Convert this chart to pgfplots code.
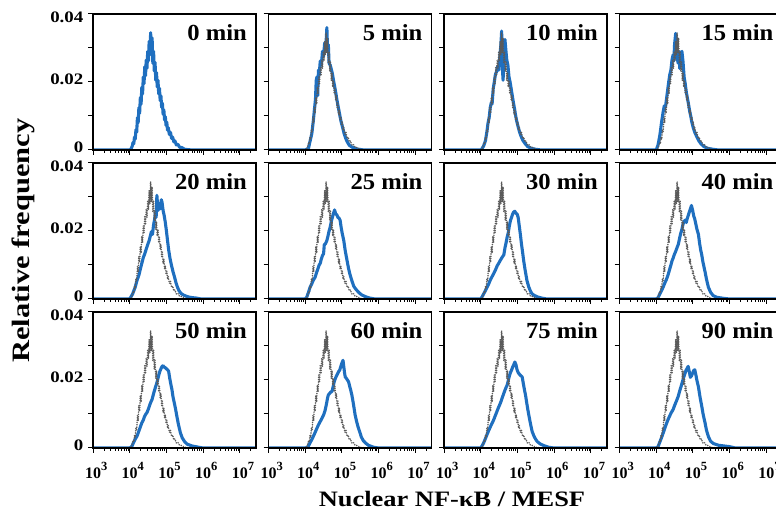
\documentclass[border=0pt]{standalone}
\usepackage{pgfplots}
\pgfplotsset{compat=1.18}
\usepackage{pgfplotstable}
\usepackage{graphicx}
\usepackage{fontspec}
\setmainfont{Liberation Serif}

\definecolor{nfblue}{RGB}{31,111,191}
\definecolor{refgray}{RGB}{90,90,90}

\newcommand{\sx}[2][1.15]{\scalebox{#1}[1]{#2}}
\newcommand{\dec}[1]{\textbf{10}\rlap{\raisebox{7.5pt}{\fontsize{12.5}{12.5}\selectfont\textbf{#1}}}}
\newcommand{\ylab}[2]{\smash{\raisebox{#2}{\sx[1.18]{\textbf{#1}}}}}

% reference distribution (0 min), log10 of intensity vs relative frequency
\pgfplotstableread{
x y
3.00 0
4.00 0
4.04 0.0004
4.07 0.0012
4.09 0.0022
4.11 0.0018
4.13 0.0038
4.15 0.0032
4.17 0.0060
4.19 0.0052
4.21 0.0095
4.23 0.0080
4.25 0.0125
4.27 0.0108
4.29 0.0155
4.31 0.0135
4.33 0.0185
4.35 0.0165
4.37 0.0215
4.39 0.0195
4.41 0.0245
4.43 0.0218
4.45 0.0265
4.47 0.0240
4.49 0.0290
4.51 0.0262
4.53 0.0320
4.55 0.0280
4.57 0.0345
4.59 0.0285
4.61 0.0330
4.63 0.0255
4.65 0.0290
4.67 0.0232
4.69 0.0258
4.71 0.0205
4.73 0.0228
4.75 0.0185
4.77 0.0205
4.79 0.0165
4.81 0.0182
4.83 0.0145
4.85 0.0160
4.87 0.0125
4.89 0.0138
4.91 0.0105
4.93 0.0118
4.95 0.0088
4.97 0.0098
4.99 0.0072
5.01 0.0082
5.03 0.0058
5.05 0.0066
5.08 0.0046
5.11 0.0052
5.14 0.0034
5.17 0.0038
5.20 0.0024
5.23 0.0027
5.27 0.0015
5.31 0.0017
5.36 0.0008
5.42 0.0007
5.50 0.0002
5.60 0.0001
5.70 0
7.50 0
}\tRef

\pgfplotstableread{
x y
3.00 0
4.00 0
4.09 0.0005
4.13 0.0025
4.18 0.0048
4.22 0.0085
4.25 0.0118
4.28 0.0150
4.30 0.0205
4.32 0.0215
4.34 0.0160
4.36 0.0235
4.38 0.0220
4.41 0.0262
4.44 0.0250
4.47 0.0290
4.50 0.0275
4.53 0.0315
4.56 0.0300
4.59 0.0360
4.61 0.0290
4.63 0.0310
4.65 0.0255
4.68 0.0250
4.71 0.0238
4.74 0.0225
4.77 0.0205
4.80 0.0188
4.83 0.0170
4.86 0.0150
4.89 0.0132
4.92 0.0115
4.95 0.0098
4.98 0.0082
5.02 0.0066
5.06 0.0048
5.10 0.0035
5.14 0.0025
5.20 0.0014
5.28 0.0008
5.40 0.0003
5.60 0
7.50 0
}\tBfive

\pgfplotstableread{
x y
3.00 0
4.00 0
4.03 0.0003
4.08 0.0012
4.13 0.0028
4.17 0.0055
4.20 0.0080
4.23 0.0095
4.26 0.0125
4.29 0.0140
4.31 0.0135
4.34 0.0180
4.37 0.0200
4.40 0.0222
4.43 0.0230
4.46 0.0245
4.49 0.0235
4.52 0.0275
4.55 0.0310
4.57 0.0350
4.59 0.0240
4.61 0.0205
4.63 0.0280
4.66 0.0325
4.68 0.0300
4.71 0.0265
4.74 0.0250
4.77 0.0215
4.80 0.0200
4.83 0.0180
4.86 0.0160
4.89 0.0140
4.92 0.0122
4.95 0.0102
4.98 0.0085
5.02 0.0068
5.06 0.0052
5.10 0.0040
5.15 0.0028
5.20 0.0020
5.28 0.0010
5.38 0.0005
5.50 0.0002
5.65 0
7.50 0
}\tBten

\pgfplotstableread{
x y
3.00 0
4.00 0
4.05 0.0015
4.10 0.0044
4.15 0.0085
4.19 0.0113
4.22 0.0130
4.25 0.0125
4.28 0.0150
4.31 0.0175
4.34 0.0200
4.37 0.0222
4.40 0.0235
4.43 0.0265
4.46 0.0280
4.48 0.0262
4.50 0.0310
4.53 0.0343
4.55 0.0300
4.57 0.0270
4.60 0.0255
4.62 0.0290
4.64 0.0240
4.67 0.0285
4.70 0.0290
4.73 0.0260
4.76 0.0215
4.79 0.0195
4.82 0.0170
4.85 0.0152
4.88 0.0135
4.91 0.0115
4.94 0.0100
4.97 0.0082
5.01 0.0065
5.05 0.0052
5.10 0.0040
5.16 0.0027
5.22 0.0018
5.30 0.0010
5.40 0.0005
5.55 0.0002
5.70 0
7.50 0
}\tBfifteen

\pgfplotstableread{
x y
3.00 0
4.00 0
4.08 0.0015
4.15 0.0035
4.20 0.0055
4.25 0.0070
4.29 0.0088
4.33 0.0105
4.37 0.0122
4.40 0.0130
4.43 0.0140
4.46 0.0150
4.49 0.0160
4.53 0.0172
4.56 0.0185
4.59 0.0198
4.62 0.0190
4.65 0.0218
4.68 0.0235
4.70 0.0255
4.72 0.0240
4.74 0.0305
4.77 0.0260
4.80 0.0280
4.83 0.0265
4.86 0.0292
4.88 0.0285
4.91 0.0260
4.94 0.0245
4.97 0.0225
5.00 0.0200
5.03 0.0172
5.06 0.0145
5.10 0.0118
5.14 0.0098
5.18 0.0080
5.22 0.0065
5.26 0.0048
5.30 0.0035
5.34 0.0025
5.40 0.0016
5.46 0.0012
5.52 0.0009
5.60 0.0006
5.70 0.0004
5.80 0.0003
5.95 0
7.50 0
}\tBtwenty

\pgfplotstableread{
x y
3.00 0
4.00 0
4.04 0.0005
4.09 0.0020
4.13 0.0034
4.18 0.0045
4.22 0.0055
4.27 0.0064
4.31 0.0078
4.35 0.0090
4.38 0.0100
4.41 0.0105
4.44 0.0118
4.47 0.0128
4.50 0.0133
4.52 0.0160
4.55 0.0162
4.59 0.0172
4.62 0.0185
4.65 0.0200
4.68 0.0211
4.71 0.0228
4.74 0.0240
4.77 0.0252
4.80 0.0262
4.83 0.0250
4.86 0.0248
4.89 0.0240
4.92 0.0238
4.95 0.0232
4.98 0.0210
5.01 0.0192
5.05 0.0172
5.09 0.0142
5.14 0.0113
5.18 0.0090
5.22 0.0072
5.27 0.0054
5.32 0.0038
5.37 0.0030
5.41 0.0025
5.47 0.0018
5.54 0.0012
5.64 0.0007
5.75 0.0003
5.90 0
7.50 0
}\tBtwentyfive

\pgfplotstableread{
x y
3.00 0
4.00 0
4.03 0.0005
4.08 0.0015
4.13 0.0025
4.17 0.0034
4.22 0.0045
4.27 0.0058
4.31 0.0066
4.35 0.0074
4.40 0.0085
4.45 0.0098
4.49 0.0105
4.53 0.0113
4.58 0.0122
4.63 0.0130
4.66 0.0150
4.69 0.0165
4.72 0.0182
4.75 0.0195
4.78 0.0215
4.81 0.0231
4.84 0.0240
4.87 0.0250
4.90 0.0256
4.93 0.0258
4.96 0.0252
4.99 0.0250
5.02 0.0240
5.05 0.0215
5.08 0.0190
5.11 0.0162
5.14 0.0138
5.17 0.0113
5.21 0.0085
5.26 0.0054
5.31 0.0035
5.36 0.0022
5.40 0.0015
5.47 0.0010
5.55 0.0006
5.65 0.0003
5.80 0
7.50 0
}\tBthirty

\pgfplotstableread{
x y
3.00 0
4.00 0
4.05 0.0004
4.10 0.0015
4.15 0.0026
4.19 0.0035
4.23 0.0046
4.28 0.0058
4.32 0.0070
4.36 0.0085
4.40 0.0100
4.43 0.0112
4.46 0.0120
4.49 0.0130
4.53 0.0140
4.57 0.0152
4.60 0.0160
4.63 0.0175
4.66 0.0190
4.70 0.0205
4.73 0.0220
4.76 0.0228
4.79 0.0232
4.82 0.0225
4.84 0.0235
4.87 0.0245
4.90 0.0255
4.93 0.0265
4.96 0.0275
4.99 0.0262
5.02 0.0245
5.05 0.0235
5.08 0.0220
5.11 0.0205
5.15 0.0190
5.18 0.0165
5.21 0.0145
5.24 0.0130
5.27 0.0110
5.30 0.0095
5.33 0.0080
5.37 0.0058
5.42 0.0035
5.48 0.0020
5.55 0.0010
5.65 0.0005
5.83 0.0002
6.00 0
7.50 0
}\tBforty

\pgfplotstableread{
x y
3.00 0
4.00 0
4.06 0.0005
4.10 0.0015
4.15 0.0026
4.20 0.0035
4.25 0.0050
4.29 0.0062
4.33 0.0074
4.37 0.0082
4.40 0.0092
4.44 0.0100
4.47 0.0104
4.51 0.0115
4.55 0.0128
4.58 0.0136
4.61 0.0143
4.65 0.0160
4.69 0.0175
4.72 0.0185
4.74 0.0192
4.77 0.0205
4.80 0.0218
4.83 0.0228
4.86 0.0235
4.88 0.0240
4.91 0.0242
4.94 0.0238
4.97 0.0236
5.00 0.0233
5.03 0.0230
5.06 0.0226
5.09 0.0205
5.12 0.0188
5.15 0.0172
5.18 0.0150
5.21 0.0135
5.25 0.0114
5.29 0.0090
5.33 0.0068
5.38 0.0045
5.43 0.0030
5.50 0.0018
5.57 0.0011
5.70 0.0006
5.84 0.0003
6.00 0
7.50 0
}\tBfifty

\pgfplotstableread{
x y
3.00 0
4.00 0
4.08 0.0004
4.13 0.0015
4.18 0.0025
4.22 0.0034
4.27 0.0046
4.31 0.0056
4.36 0.0068
4.40 0.0076
4.45 0.0086
4.50 0.0097
4.54 0.0110
4.58 0.0130
4.61 0.0148
4.63 0.0156
4.66 0.0160
4.70 0.0165
4.73 0.0166
4.76 0.0180
4.79 0.0195
4.82 0.0204
4.85 0.0212
4.88 0.0218
4.91 0.0225
4.94 0.0229
4.97 0.0240
5.00 0.0250
5.03 0.0258
5.05 0.0240
5.07 0.0222
5.09 0.0209
5.12 0.0205
5.15 0.0200
5.18 0.0195
5.21 0.0182
5.24 0.0170
5.27 0.0156
5.30 0.0138
5.33 0.0118
5.36 0.0097
5.40 0.0078
5.44 0.0062
5.48 0.0049
5.53 0.0032
5.58 0.0022
5.64 0.0015
5.72 0.0008
5.87 0.0002
6.00 0
7.50 0
}\tBsixty

\pgfplotstableread{
x y
3.00 0
4.00 0
4.03 0.0005
4.08 0.0015
4.13 0.0028
4.17 0.0039
4.22 0.0052
4.27 0.0064
4.31 0.0073
4.35 0.0082
4.40 0.0096
4.44 0.0107
4.48 0.0118
4.52 0.0128
4.55 0.0136
4.58 0.0146
4.62 0.0158
4.66 0.0170
4.69 0.0178
4.72 0.0185
4.75 0.0198
4.78 0.0212
4.81 0.0222
4.84 0.0229
4.87 0.0238
4.90 0.0245
4.93 0.0253
4.96 0.0245
4.99 0.0230
5.02 0.0222
5.04 0.0219
5.07 0.0215
5.10 0.0212
5.13 0.0209
5.16 0.0190
5.19 0.0172
5.22 0.0156
5.25 0.0135
5.28 0.0115
5.31 0.0097
5.34 0.0080
5.37 0.0064
5.40 0.0049
5.45 0.0035
5.50 0.0025
5.54 0.0019
5.62 0.0012
5.72 0.0007
5.86 0.0002
6.00 0
7.50 0
}\tBseventyfive

\pgfplotstableread{
x y
3.00 0
4.00 0
4.05 0.0004
4.10 0.0018
4.15 0.0032
4.19 0.0044
4.24 0.0060
4.28 0.0072
4.32 0.0083
4.37 0.0095
4.41 0.0104
4.46 0.0113
4.50 0.0125
4.55 0.0138
4.60 0.0152
4.64 0.0168
4.68 0.0182
4.73 0.0201
4.77 0.0215
4.81 0.0228
4.85 0.0236
4.87 0.0240
4.90 0.0225
4.93 0.0208
4.96 0.0212
4.99 0.0220
5.02 0.0228
5.05 0.0230
5.08 0.0215
5.11 0.0198
5.15 0.0180
5.19 0.0152
5.24 0.0123
5.28 0.0098
5.33 0.0074
5.37 0.0052
5.42 0.0034
5.48 0.0020
5.56 0.0013
5.70 0.0008
5.85 0.0006
6.00 0.0004
6.15 0
7.50 0
}\tBninety

\pgfplotsset{
  panel/.style={
    scale only axis, width=163pt, height=136pt,
    anchor=south west,
    xmin=3, xmax=7.44, ymin=0, ymax=0.04,
    axis on top,
    scaled y ticks=false, scaled x ticks=false,
    axis line style={line width=1.8pt, black},
    tick align=outside, tick pos=left,
    major tick length=5pt, minor tick length=3pt,
    tick style={line width=1pt, black},
    xtick={3,4,5,6,7},
    minor xtick={3.301,3.477,3.602,3.699,3.778,3.845,3.903,3.954,
                 4.301,4.477,4.602,4.699,4.778,4.845,4.903,4.954,
                 5.301,5.477,5.602,5.699,5.778,5.845,5.903,5.954,
                 6.301,6.477,6.602,6.699,6.778,6.845,6.903,6.954,
                 7.301},
    ytick={0,0.01,0.02,0.03,0.04},
    xticklabels={}, yticklabels={},
    ticklabel style={font=\fontsize{16}{16}\selectfont\bfseries},
    yticklabel style={inner sep=0pt, xshift=-4.5pt},
    xticklabel style={inner sep=0pt, yshift=-9.5pt},
  },
  ylabs/.style={yticklabels={\ylab{0}{-2.4pt},{},\ylab{0.02}{-2.4pt},{},\ylab{0.04}{-8.4pt}}},
  xlabs/.style={xticklabels={\dec{3},\dec{4},\dec{5},\dec{6},\dec{7}}},
  blueline/.style={nfblue, line width=3.1pt, line join=round, no marks},
  grayline/.style={refgray, line width=1.7pt, dash pattern=on 0pt off 2.3pt, line cap=round, no marks},
}
\tikzset{ptitle/.style={anchor=north east, inner sep=0pt, xshift=-9pt, yshift=-10.5pt,
  font=\fontsize{23}{23}\selectfont\bfseries}}

\newcommand{\panel}[5]{%
  \begin{axis}[panel, at={(#1pt,#2pt)}, #5]
    \addplot[blueline] table[x=x,y=y] {#3};
    \addplot[grayline] table[x=x,y=y] {\tRef};
    \node[ptitle] at (rel axis cs:1,1) {\sx[1.07]{#4}};
  \end{axis}}

\begin{document}
\begin{tikzpicture}
  % row 1
  \begin{axis}[panel, at={(93pt,369pt)}, ylabs]
    \addplot[blueline] table[x=x,y=y] {\tRef};
    \node[ptitle] at (rel axis cs:1,1) {\sx[1.07]{0 min}};
  \end{axis}
  \panel{268.5}{369}{\tBfive}{5 min}{}
  \panel{444}{369}{\tBten}{10 min}{}
  \panel{619.5}{369}{\tBfifteen}{15 min}{}
  % row 2
  \panel{93}{220}{\tBtwenty}{20 min}{ylabs}
  \panel{268.5}{220}{\tBtwentyfive}{25 min}{}
  \panel{444}{220}{\tBthirty}{30 min}{}
  \panel{619.5}{220}{\tBforty}{40 min}{}
  % row 3
  \panel{93}{71}{\tBfifty}{50 min}{ylabs,xlabs}
  \panel{268.5}{71}{\tBsixty}{60 min}{xlabs}
  \panel{444}{71}{\tBseventyfive}{75 min}{xlabs}
  \panel{619.5}{71}{\tBninety}{90 min}{xlabs}
  % axis titles
  \node[rotate=90, font=\fontsize{25}{25}\selectfont\bfseries] at (23.5pt,278.5pt) {\sx[1.22]{Relative frequency}};
  \node[anchor=base, font=\fontsize{22}{22}\selectfont\bfseries] at (452pt,12pt) {\sx[1.2]{Nuclear NF-κB / MESF}};
  \pgfresetboundingbox
  \path[use as bounding box] (0,0) rectangle (776pt,519pt);
\end{tikzpicture}
\end{document}
